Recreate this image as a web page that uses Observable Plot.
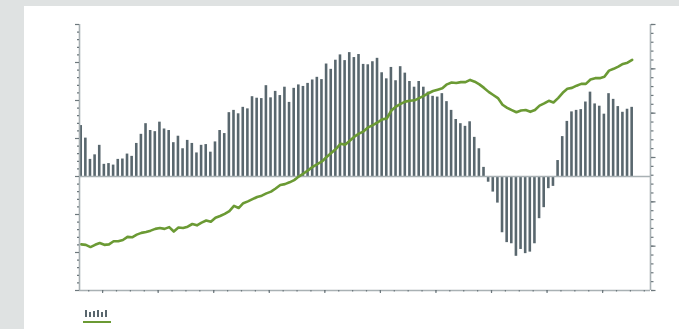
<!DOCTYPE html>
<html><head><meta charset="utf-8">
<script src="https://cdn.jsdelivr.net/npm/d3@7"></script>
<script src="https://cdn.jsdelivr.net/npm/@observablehq/plot@0.6"></script>
<style>
html,body{margin:0;padding:0;background:#dfe2e2;width:679px;height:329px;overflow:hidden;font-family:"Liberation Sans",Arial,sans-serif}
#panel{position:absolute;left:24px;top:6px;width:655px;height:323px;background:#fff}
#chart{position:absolute;left:0;top:0}
#legBars{position:absolute;left:61px;top:304px;height:7px;display:flex;align-items:flex-end;gap:2px}
#legBars span{display:block;width:2px;background:#5a676e}
#legLine{position:absolute;left:59px;top:315px;width:28px;height:2px;background:#6b9a34}
</style></head>
<body>
<div id="panel"><div id="chart"></div><div id="legBars"></div><div id="legLine"></div></div>
<script>
// monthly bar series (left axis)
const barValues = [
 13.4,10.1,4.5,5.7,8.2,3.2,3.4,3.0,4.5,4.6,5.9,5.3,
 8.7,11.1,13.9,12.1,11.8,14.3,12.5,12.1,8.9,10.6,7.3,9.5,
 8.7,6.2,8.2,8.4,6.4,9.1,12.1,11.3,16.8,17.4,16.5,18.2,
 17.8,21.0,20.6,20.5,23.9,20.7,22.4,21.3,23.5,19.5,23.2,24.1,
 23.7,24.5,25.4,26.1,25.5,29.6,28.2,30.6,32.0,30.5,32.6,31.3,
 32.1,29.5,29.4,30.2,31.1,27.3,25.7,28.7,25.2,28.9,27.2,25.0,
 23.5,25.0,23.5,22.2,21.1,20.9,21.8,19.7,17.4,15.0,13.9,13.2,
 14.4,10.3,7.3,2.4,-1.5,-4.1,-7.0,-14.8,-17.4,-17.7,-21.0,-19.2,
 -20.3,-19.9,-17.7,-11.1,-8.2,-3.2,-2.6,4.2,10.5,14.5,17.0,17.4,
 17.6,19.6,22.2,19.1,18.5,16.4,21.8,20.3,18.4,16.9,17.7,18.2
];
// monthly line series (right axis)
const lineValues = [
 10.4,10.3,9.8,10.3,10.7,10.3,10.4,11.1,11.1,11.4,12.1,12.0,
 12.6,13.0,13.2,13.5,13.9,14.1,13.9,14.3,13.3,14.2,14.1,14.4,
 15.0,14.7,15.3,15.8,15.5,16.4,16.8,17.3,17.9,19.1,18.6,19.7,
 20.1,20.6,21.1,21.4,21.9,22.3,23.0,23.8,24.0,24.4,24.9,25.7,
 26.4,27.1,27.9,28.5,29.1,30.1,31.0,31.9,33.1,32.9,33.8,34.7,
 35.4,35.9,36.8,37.3,37.9,38.6,38.8,40.6,41.5,42.1,42.6,42.8,
 42.9,43.4,43.9,44.5,45.0,45.3,45.6,46.5,46.9,46.8,47.0,47.0,
 47.5,47.1,46.5,45.7,44.8,44.1,43.4,41.9,41.2,40.7,40.2,40.6,
 40.7,40.3,40.7,41.7,42.2,42.8,42.4,43.4,44.6,45.5,45.7,46.2,
 46.6,46.6,47.6,47.9,47.9,48.2,49.6,50.0,50.5,51.1,51.4,52.0
];
const leftDomain = [-30, 40];
const rightDomain = [0, 60];
const leftMinor = d3.range(-30, 41, 2);
const leftMajor = d3.range(-30, 41, 10);
const rightMinor = d3.range(0, 61, 2);
const rightMajor = d3.range(0, 61, 10);
const xDomain = [-0.37, 122.96];
const xTicksMinor = d3.range(41).map(k => 1.62 + 3 * k);
const xTicksMajor = xTicksMinor.filter((d, k) => k % 4 === 1);
const legendBarHeights = [7, 5, 6, 7, 5, 7];

const toLeft = v => leftDomain[0] + (v - rightDomain[0]) * (leftDomain[1] - leftDomain[0]) / (rightDomain[1] - rightDomain[0]);
const bars = barValues.map((v, i) => ({i, v}));
const line = lineValues.map((v, i) => ({i, v: toLeft(v)}));

const barColor = "#59676e", green = "#6b9a34", axisColor = "#a9b1b4", tickColor = "#6d787d";
const noText = {tickFormat: () => "", label: null, stroke: tickColor, strokeWidth: 1.2};

const chart = Plot.plot({
  width: 655, height: 296,
  marginLeft: 55, marginRight: 29, marginTop: 18, marginBottom: 12,
  x: {domain: xDomain, axis: null},
  y: {domain: leftDomain, axis: null},
  style: {background: "transparent", overflow: "visible"},
  marks: [
    Plot.rectY(bars, {x1: d => d.i - 0.28, x2: d => d.i + 0.28, y1: 0, y2: "v", fill: barColor}),
    Plot.ruleY([0], {stroke: axisColor, strokeWidth: 1.5}),
    Plot.lineY(line, {x: "i", y: "v", stroke: green, strokeWidth: 2.6, curve: "linear"}),
    Plot.ruleX([xDomain[0], xDomain[1]], {stroke: axisColor, strokeWidth: 1.6}),
    Plot.ruleY([leftDomain[0]], {stroke: axisColor, strokeWidth: 1.5}),
    Plot.axisY(leftMinor, {anchor: "left", tickSize: 2, ...noText}),
    Plot.axisY(leftMajor, {anchor: "left", tickSize: 4, ...noText}),
    Plot.axisY(rightMinor.map(toLeft), {anchor: "right", tickSize: 2.5, ...noText}),
    Plot.axisY(rightMajor.map(toLeft), {anchor: "right", tickSize: 4.5, ...noText}),
    Plot.axisX(xTicksMinor, {anchor: "bottom", tickSize: 1.5, ...noText}),
    Plot.axisX(xTicksMajor, {anchor: "bottom", tickSize: 3, ...noText})
  ]
});
document.getElementById("chart").appendChild(chart);

const lb = document.getElementById("legBars");
legendBarHeights.forEach(h => { const s = document.createElement("span"); s.style.height = h + "px"; lb.appendChild(s); });
</script>
</body></html>
